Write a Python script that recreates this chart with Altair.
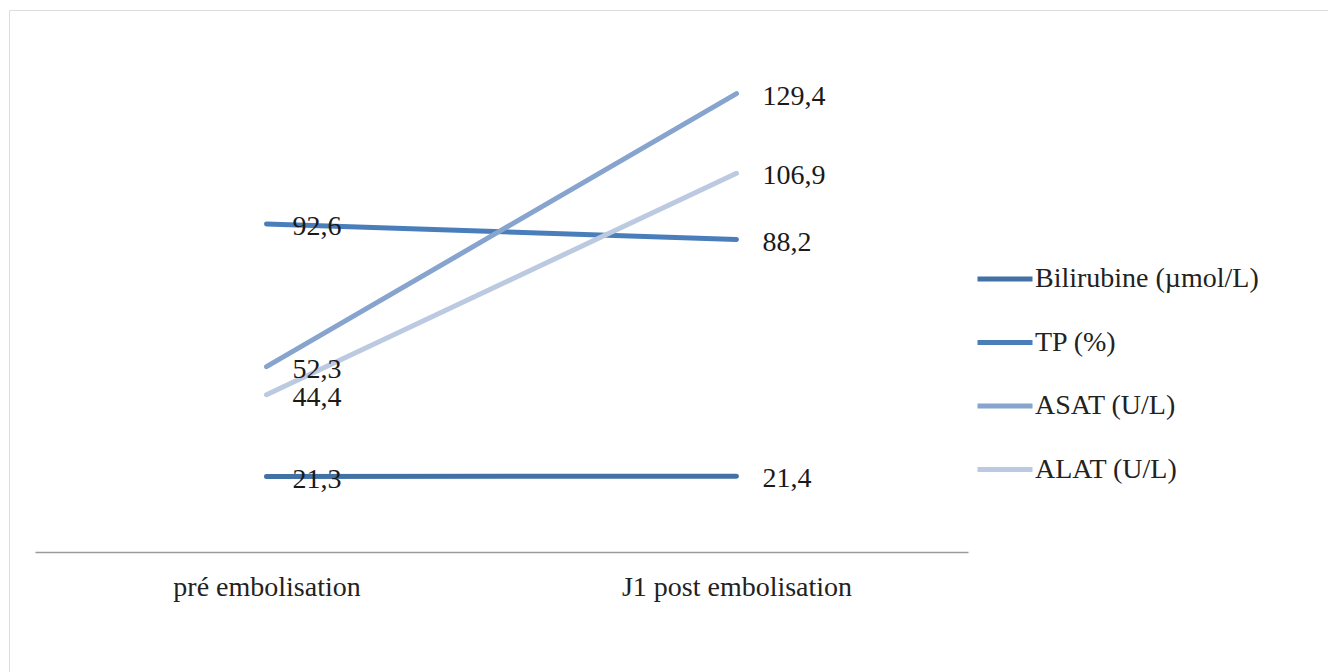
import altair as alt
import pandas as pd

categories = ["pré embolisation", "J1 post embolisation"]
series = ["Bilirubine (µmol/L)", "TP (%)", "ASAT (U/L)", "ALAT (U/L)"]
bilirubine = [21.3, 21.4]
tp = [92.6, 88.2]
asat = [52.3, 129.4]
alat = [44.4, 106.9]
colors = ["#4271A6", "#4A7EBB", "#87A4CF", "#BBC9E1"]

rows = []
for s, vals in zip(series, [bilirubine, tp, asat, alat]):
    for c, v in zip(categories, vals):
        rows.append({"cat": c, "serie": s, "val": v,
                     "label": f"{v:.1f}".replace(".", ",")})
df = pd.DataFrame(rows)

FONT = "Liberation Serif"
W, H = 1319, 664

x = alt.X("cat:N", sort=categories,
          scale=alt.Scale(type="point", range=[26, 959], padding=0.4926),
          axis=alt.Axis(title=None, ticks=False, labelAngle=0, labelFontSize=28,
                        labelFont=FONT, labelColor="#222222", labelPadding=21,
                        labelLimit=0,
                        domainColor="#9a9a9a", domainWidth=1.5,
                        offset=-(H - 542), grid=False))
y = alt.Y("val:Q", scale=alt.Scale(domain=[0, 140], range=[542, 46]), axis=None)

base = alt.Chart(df)

lines = base.mark_line(strokeWidth=5, strokeCap="round").encode(
    x=x, y=y,
    color=alt.Color("serie:N", sort=series,
                    scale=alt.Scale(domain=series, range=colors),
                    legend=alt.Legend(title=None, orient="none", legendX=966, legendY=239,
                                      symbolType="stroke", symbolSize=3025,
                                      symbolStrokeWidth=5, labelFontSize=28,
                                      labelFont=FONT, labelColor="#222222",
                                      labelOffset=0, rowPadding=19.5, labelLimit=0)),
    order=alt.Order("serie:N"),
)

labels = base.mark_text(align="left", baseline="middle", dx=26, dy=3,
                        fontSize=28, font=FONT, color="#1a1a1a").encode(
    x=x, y=y, text="label:N")

chart = (lines + labels).properties(
    width=W, height=H,
    padding={"left": 1, "top": 2, "right": 0, "bottom": 0},
    autosize=alt.AutoSizeParams(type="none"),
).configure_view(stroke="#a6a6a6", strokeWidth=1.5).configure(background="white")

chart.save("out.html", embed_options={"renderer": "svg", "actions": False})
